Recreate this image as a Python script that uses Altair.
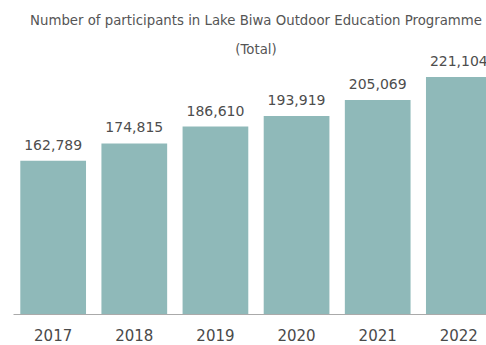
import altair as alt
import pandas as pd

years = ["2017", "2018", "2019", "2020", "2021", "2022"]
participants = [162789, 174815, 186610, 193919, 205069, 221104]

df = pd.DataFrame({"year": years, "value": participants})

FONT = "DejaVu Sans"
BAR = "#8fb9b9"

x = alt.X(
    "year:N",
    sort=years,
    title=None,
    scale=alt.Scale(range=[13, 499], paddingInner=0.19, paddingOuter=0.09),
    axis=alt.Axis(
        labelAngle=0,
        labelFont=FONT,
        labelFontSize=15,
        labelColor="#4a4a4a",
        labelPadding=14,
        ticks=False,
        domain=True,
        domainColor="#aaaaaa",
        domainWidth=1,
        grid=False,
    ),
)
y = alt.Y(
    "value:Q",
    title=None,
    scale=alt.Scale(domain=[56000, 233000], zero=False, nice=False, clamp=True),
    axis=None,
)

bars = alt.Chart(df).mark_bar(color=BAR).encode(x=x, y=y)
labels = alt.Chart(df).mark_text(
    font=FONT, fontSize=14, color="#4d4d4d", baseline="alphabetic", dy=-11
).encode(x=x, y=y, text=alt.Text("value:Q", format=","))

chart = (
    alt.layer(bars, labels)
    .properties(
        width=486,
        height=254,
        padding={"left": 0, "top": 60, "right": 0, "bottom": 31},
        autosize=alt.AutoSizeParams(type="none"),
        title=alt.TitleParams(
            text=[
                "Number of participants in Lake Biwa Outdoor Education Programme",
                "(Total)",
            ],
            anchor="middle",
            font=FONT,
            fontSize=13.3,
            fontWeight="normal",
            color="#555555",
            lineHeight=29,
            dx=13,
            dy=2,
            offset=1,
        ),
    )
    .configure_view(stroke=None)
)

chart.save("out.html", embed_options={"renderer": "svg", "actions": False})
